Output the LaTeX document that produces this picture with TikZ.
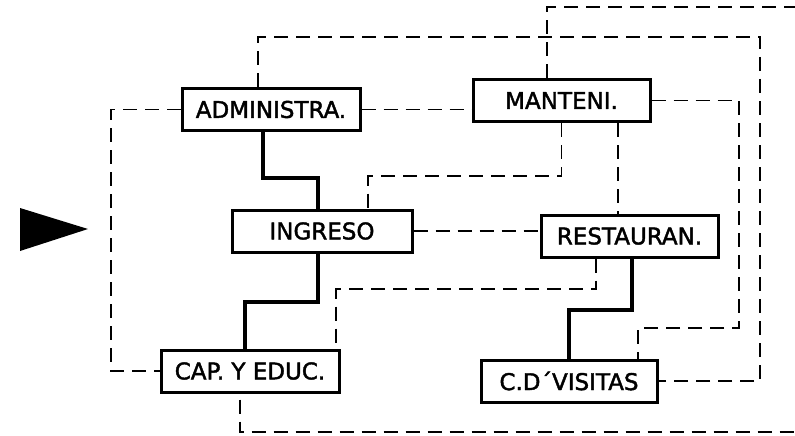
\documentclass[tikz,border=0pt]{standalone}
\usepackage{fontspec}
\setmainfont{DejaVu Sans}
\newfontfamily\labfont{DejaVu Sans}[FakeBold=1.8]
\begin{document}
\begin{tikzpicture}[x=1pt,y=-1pt,
  box/.style={draw=black,line width=3pt,fill=white,minimum height=42pt,inner sep=0pt,font=\labfont\fontsize{23}{26}\selectfont},
  dl/.style={draw=black,line width=1.9pt,dash pattern=on 14pt off 8pt},
  sl/.style={draw=black,line width=3.4pt}]
\useasboundingbox (0,0) rectangle (795,436);
\node[box,minimum width=178pt] (adm) at (271,109.5) {ADMINISTRA.};
\node[box,minimum width=177pt] (man) at (561.5,100.5) {MANTENI.};
\node[box,minimum width=180pt] (ing) at (322,231) {INGRESO};
\node[box,minimum width=177pt] (res) at (629.5,236) {RESTAURAN.};
\node[box,minimum width=178pt] (cap) at (250,371) {CAP. Y EDUC.};
\node[box,minimum width=176pt] (cdv) at (569,381) {C.D´VISITAS};
% dashed connectors
\draw[dl] ([xshift=-13pt]adm.north) |- (760,37) |- (cdv.east);
\draw[dl] ([xshift=-14.5pt]man.north) |- (800,7);
\draw[dl] (adm.west) -| (111,371) -- (cap.west);
\draw[dl] (adm.east) -- (adm.east -| man.west);
\draw[dl] (man.south) |- (368,176) -- ([xshift=46pt]ing.north);
\draw[dl] ([xshift=56.5pt]man.south) -- ([xshift=56.5pt]man.south |- res.north);
\draw[dl] (man.east) -| (739,328) -| ([xshift=69pt]cdv.north);
\draw[dl] (ing.east) -- (ing.east -| res.west);
\draw[dl] ([xshift=-33.5pt]res.south) |- (336,289) -- ([xshift=86pt]cap.north);
\draw[dl] ([xshift=-10pt,yshift=-6pt]cap.south) |- (800,432);
% solid connectors
\draw[sl] ([xshift=-8pt]adm.south) |- (318,178) -- ([xshift=-4pt]ing.north);
\draw[sl] ([xshift=-4pt]ing.south) |- (245,302) -- ([xshift=-5pt]cap.north);
\draw[sl] ([xshift=2.5pt]res.south) |- (569,310) -- (cdv.north);
% arrow head
\fill[black] (20,208) -- (88,229) -- (20,251) -- cycle;
\end{tikzpicture}
\end{document}
